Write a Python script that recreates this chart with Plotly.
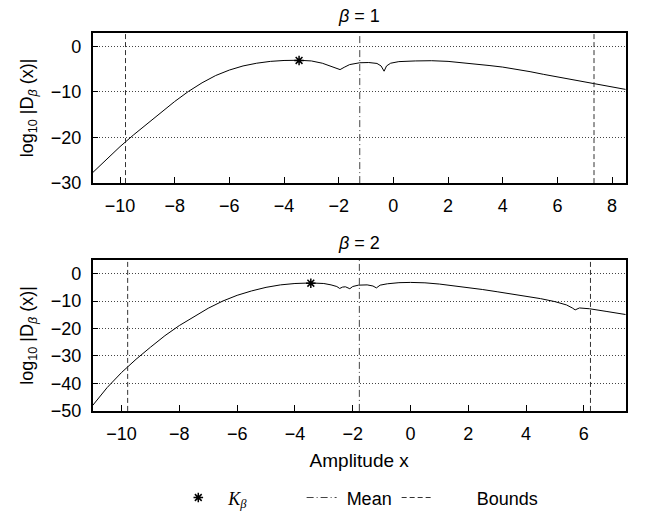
import plotly.graph_objects as go

# ---- beta = 1 ----
x_b1 = [-11, -10.5, -10, -9.5, -9, -8.5, -8, -7.5, -7, -6.5, -6, -5.5, -5, -4.5, -4,
        -3.45, -3, -2.6, -2.3, -2.1, -1.95, -1.8, -1.6, -1.23, -0.9, -0.6, -0.45, -0.34,
        -0.25, -0.1, 0.2, 0.8, 1.4, 2, 2.5, 3, 3.5, 4, 4.5, 5, 5.5, 6, 6.5, 7, 7.5, 8, 8.5]
logd_b1 = [-27.7, -24.8, -22.0, -19.4, -16.9, -14.4, -12.1, -9.9, -8.0, -6.4, -5.2, -4.3,
           -3.7, -3.3, -3.1, -3.05, -3.2, -3.7, -4.3, -4.8, -5.1, -4.6, -4.0, -3.6, -3.55,
           -3.75, -4.3, -5.45, -4.3, -3.7, -3.35, -3.2, -3.15, -3.3, -3.55, -3.85, -4.2,
           -4.55, -5.0, -5.55, -6.15, -6.7, -7.2, -7.7, -8.2, -8.8, -9.45]
k_x_b1 = [-3.45]
k_y_b1 = [-3.1]
mean_b1 = -1.23
bounds_b1 = [-9.8, 7.34]
yrange_b1 = [-30, 3]
xrange_b1 = [-11, 8.5]

# ---- beta = 2 ----
x_b2 = [-11, -10.5, -10, -9.5, -9, -8.5, -8, -7.5, -7, -6.5, -6, -5.5, -5, -4.5, -4,
        -3.45, -3, -2.75, -2.55, -2.45, -2.35, -2.25, -2.15, -2.1, -2.0, -1.8, -1.5, -1.3,
        -1.18, -1.05, -0.8, -0.4, 0, 0.5, 1.0, 1.5, 2.0, 2.5, 3.0, 3.5, 4.0, 4.5, 5.0,
        5.4, 5.6, 5.7, 5.85, 6.2, 6.8, 7.45]
logd_b2 = [-48.0, -41.5, -36.0, -31.2, -26.8, -22.6, -18.9, -15.6, -12.6, -10.0, -7.9,
           -6.3, -5.0, -4.1, -3.6, -3.4, -3.6, -4.1, -4.7, -5.4, -4.9, -4.8, -5.2, -5.5,
           -4.7, -4.2, -4.1, -4.5, -5.2, -4.2, -3.7, -3.3, -3.2, -3.35, -3.8, -4.4, -5.0,
           -5.8, -6.6, -7.4, -8.2, -9.1, -10.2, -11.4, -12.5, -13.2, -12.5, -12.8, -13.8,
           -14.9]
k_x_b2 = [-3.45]
k_y_b2 = [-3.5]
mean_b2 = -1.77
bounds_b2 = [-9.79, 6.23]
yrange_b2 = [-50, 5]
xrange_b2 = [-11, 7.45]

x_ticks_b1 = [-10, -8, -6, -4, -2, 0, 2, 4, 6, 8]
x_ticks_b2 = [-10, -8, -6, -4, -2, 0, 2, 4, 6]
y_ticks_b1 = [0, -10, -20, -30]
y_ticks_b2 = [0, -10, -20, -30, -40, -50]

FONT = "Liberation Sans, Arial, sans-serif"
FS = 18
MEAN_DASH = "7px,3px,1px,3px"
BOUND_DASH = "5px,3px"
NB = "&nbsp;"

fig = go.Figure()

panels = [
    ("x", "y", x_b1, logd_b1, k_x_b1, k_y_b1, mean_b1, bounds_b1, yrange_b1, True),
    ("x2", "y2", x_b2, logd_b2, k_x_b2, k_y_b2, mean_b2, bounds_b2, yrange_b2, False),
]

for xa, ya, xs, ys, kx, ky, mean, bounds, yr, show in panels:
    fig.add_trace(go.Scatter(x=xs, y=ys, mode="lines", xaxis=xa, yaxis=ya,
                             line=dict(color="black", width=1), showlegend=False,
                             hoverinfo="skip"))
    fig.add_trace(go.Scatter(x=[mean, mean], y=yr, mode="lines", xaxis=xa, yaxis=ya,
                             line=dict(color="#444", width=1, dash=MEAN_DASH),
                             name=NB + "Mean", legendrank=2,
                             showlegend=show, hoverinfo="skip"))
    fig.add_trace(go.Scatter(x=[bounds[0], bounds[0], None, bounds[1], bounds[1]],
                             y=[yr[0], yr[1], None, yr[0], yr[1]], mode="lines",
                             xaxis=xa, yaxis=ya,
                             line=dict(color="#333", width=1, dash=BOUND_DASH),
                             name=NB * 8 + "Bounds", legendrank=3, showlegend=show,
                             hoverinfo="skip"))
    fig.add_trace(go.Scatter(x=kx, y=ky, mode="markers", xaxis=xa, yaxis=ya,
                             marker=dict(symbol="asterisk-open", size=8, color="black",
                                         line=dict(color="black", width=1.5)),
                             name=NB * 2 + '<span style="font-family:Liberation Serif">'
                                  '<i>K</i><sub><i>β</i></sub></span>' + NB * 10,
                             legendrank=1, showlegend=show, hoverinfo="skip"))

axis_common = dict(
    showline=True, linecolor="black", linewidth=1.5, mirror=True,
    ticks="inside", ticklen=6, tickwidth=1.2, tickcolor="black",
    zeroline=False, tickfont=dict(family=FONT, size=FS, color="black"),
)
yaxis_common = dict(axis_common, showgrid=True, gridcolor="#444", gridwidth=1,
                    griddash="1px,2px")
ytitle = dict(text="log<sub>10</sub> |D<sub><i>β</i></sub> (x)|",
              font=dict(family=FONT, size=FS, color="black"), standoff=12)

fig.update_layout(
    width=646, height=519,
    margin=dict(l=0, r=0, t=0, b=0),
    paper_bgcolor="white", plot_bgcolor="white",
    font=dict(family=FONT, size=FS, color="black"),
    xaxis=dict(axis_common, domain=[0.1435, 0.9686], range=xrange_b1,
               tickvals=x_ticks_b1, showgrid=False, anchor="y", ticklabelstandoff=6),
    yaxis=dict(yaxis_common, domain=[0.6403, 0.9358], range=yrange_b1,
               tickvals=y_ticks_b1, anchor="x", title=ytitle, ticklabelstandoff=6),
    xaxis2=dict(axis_common, domain=[0.1435, 0.9686], range=xrange_b2,
                tickvals=x_ticks_b2, showgrid=False, anchor="y2", ticklabelstandoff=6,
                title=dict(text="Amplitude x", font=dict(family=FONT, size=19),
                           standoff=10)),
    yaxis2=dict(yaxis_common, domain=[0.1927, 0.4894], range=yrange_b2,
                tickvals=y_ticks_b2, anchor="x2", title=ytitle, ticklabelstandoff=6),
    legend=dict(orientation="h", x=0.276, xanchor="left", y=0.022, yanchor="middle",
                font=dict(family=FONT, size=FS, color="black"),
                bgcolor="rgba(0,0,0,0)", traceorder="normal"),
    annotations=[
        dict(text="<i>β</i> = 1", x=0.556, y=1 - 16 / 519, xref="paper", yref="paper",
             showarrow=False, font=dict(family=FONT, size=FS, color="black"),
             xanchor="center", yanchor="middle"),
        dict(text="<i>β</i> = 2", x=0.556, y=1 - 247.5 / 519, xref="paper", yref="paper",
             showarrow=False, font=dict(family=FONT, size=FS, color="black"),
             xanchor="center", yanchor="middle"),
    ],
)

fig.write_html("out.html")
